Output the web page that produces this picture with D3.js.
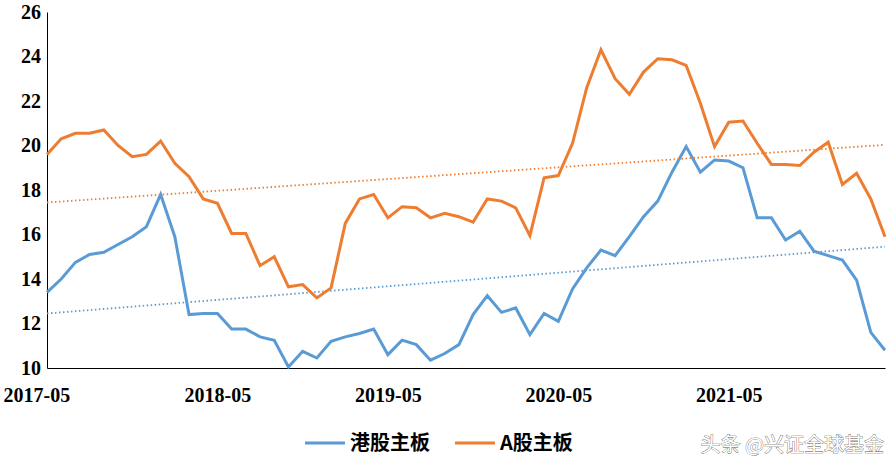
<!DOCTYPE html>
<html><head><meta charset="utf-8">
<script src="https://cdn.jsdelivr.net/npm/d3@7"></script>
<style>body{margin:0;background:#fff}</style>
</head><body><div id="chart"></div>
<script>
// monthly, 2017-05 .. 2022-04
const hk = [13.4,14.0,14.75,15.1,15.2,15.55,15.9,16.35,17.8,15.9,12.4,12.45,12.45,11.75,11.75,11.4,11.25,10.05,10.75,10.45,
  11.2,11.4,11.55,11.75,10.6,11.25,11.05,10.35,10.65,11.05,12.4,13.25,12.5,12.7,11.5,12.45,12.1,13.55,14.5,15.3,
  15.05,15.9,16.8,17.5,18.8,19.95,18.8,19.35,19.3,19.0,16.75,16.75,15.75,16.15,15.25,15.05,14.85,13.95,11.6,10.8];
const ashare = [19.6,20.3,20.55,20.55,20.7,20.0,19.5,19.6,20.2,19.2,18.6,17.6,17.4,16.05,16.05,14.6,15.0,13.65,13.75,13.15,
  13.6,16.5,17.6,17.8,16.75,17.25,17.2,16.75,16.95,16.8,16.55,17.6,17.5,17.2,15.95,18.55,18.65,20.1,22.6,24.3,
  23.0,22.3,23.3,23.9,23.85,23.6,21.9,19.95,21.05,21.1,20.1,19.15,19.15,19.1,19.7,20.15,18.25,18.75,17.6,15.9];
const xTicks = ["2017-05","2018-05","2019-05","2020-05","2021-05"];
const yTicks = [10,12,14,16,18,20,22,24,26];
const series = [
  {name:"港股主板", values:hk, color:"#5b9bd5"},
  {name:"A股主板", values:ashare, color:"#ed7d31"}
];

const width = 893, height = 471;
const margin = {left:47, right:8, top:12, bottom:103};
const svg = d3.select("#chart").append("svg").attr("width", width).attr("height", height);

const x = d3.scaleLinear().domain([0, hk.length - 1]).range([margin.left, width - margin.right]);
const y = d3.scaleLinear().domain([10, 26]).range([height - margin.bottom, margin.top]);

const font = "'Liberation Serif', 'DejaVu Serif', serif";

svg.append("g")
  .attr("transform", `translate(${margin.left},0)`)
  .call(d3.axisLeft(y).tickValues(yTicks).tickSize(0).tickPadding(6))
  .call(g => g.select(".domain").attr("stroke", "#000"))
  .call(g => g.selectAll("text").attr("font-family", font).attr("font-size", 20).attr("font-weight", "bold").attr("fill", "#000"));

const gx = svg.append("g")
  .attr("transform", `translate(0,${height - margin.bottom})`)
  .call(d3.axisBottom(x).tickValues(xTicks.map((d, i) => i * 12)).tickFormat((d, i) => xTicks[i]).tickSize(0).tickPadding(20))
  .call(g => g.select(".domain").attr("stroke", "#000"))
  .call(g => g.selectAll("text").attr("font-family", font).attr("font-size", 20).attr("font-weight", "bold").attr("fill", "#000"));
gx.select(".tick text").attr("text-anchor", "start").attr("dx", -margin.left + 3);

const line = d3.line().x((d, i) => x(i)).y(d => y(d));

series.forEach(s => {
  // linear trend
  const n = s.values.length;
  const mx = d3.mean(s.values, (d, i) => i), my = d3.mean(s.values);
  const b = d3.sum(s.values, (d, i) => (i - mx) * (d - my)) / d3.sum(s.values, (d, i) => (i - mx) ** 2);
  const a = my - b * mx;
  svg.append("line")
    .attr("x1", x(0)).attr("y1", y(a))
    .attr("x2", x(n - 1)).attr("y2", y(a + b * (n - 1)))
    .attr("stroke", s.color).attr("stroke-width", 1.8).attr("stroke-dasharray", "1.5,2.5");
  svg.append("path").datum(s.values)
    .attr("d", line).attr("fill", "none")
    .attr("stroke", s.color).attr("stroke-width", 3);
});

const legend = svg.append("g").attr("transform", "translate(305,443)");
series.forEach((s, i) => {
  const g = legend.append("g").attr("transform", `translate(${i * 150},0)`);
  g.append("line").attr("x1", 0).attr("x2", 40).attr("stroke", s.color).attr("stroke-width", 3);
  g.append("text").attr("x", 45).attr("dy", "0.35em")
    .attr("font-family", "'Noto Sans CJK SC', sans-serif").attr("font-size", 20).attr("font-weight", "bold")
    .text(s.name);
});

svg.append("text").attr("x", 884).attr("y", 452).attr("text-anchor", "end")
  .attr("font-family", "'Noto Sans CJK SC', sans-serif").attr("font-size", 20)
  .attr("fill", "#fff").attr("stroke", "#555").attr("stroke-width", 0.7).attr("paint-order", "stroke")
  .text("头条 @兴证全球基金");
</script></body></html>
